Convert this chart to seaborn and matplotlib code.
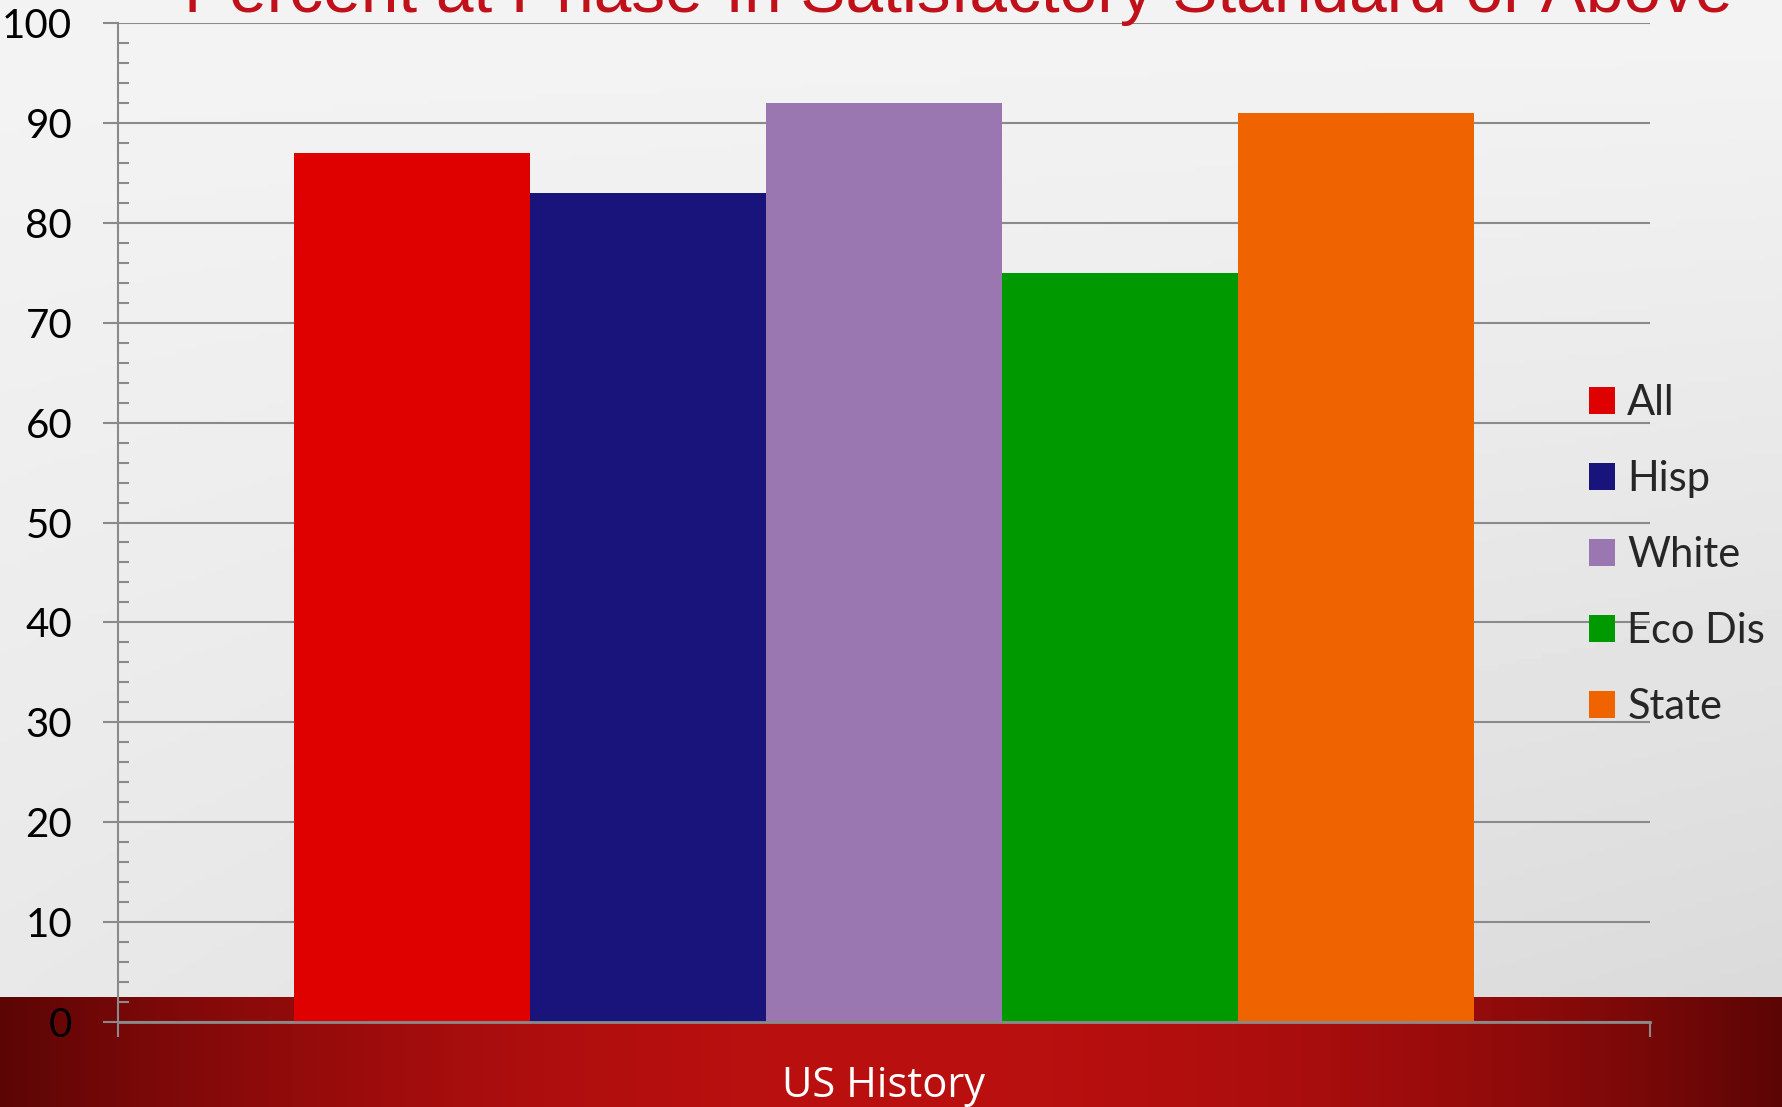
import matplotlib.pyplot as plt
import seaborn as sns
import pandas as pd
import numpy as np

# chart data
title = 'Percent at Phase-In Satisfactory Standard or Above'
subject = 'US History'
groups = ['All', 'Hisp', 'White', 'Eco Dis', 'State']
values = [87, 83, 92, 75, 91]
colors = ['#df0000', '#19137c', '#9b77b2', '#009900', '#f06400']

W, H = 1783, 1107
sns.set_theme(style='white')
plt.rcParams['font.family'] = ['Lato', 'DejaVu Sans']

fig = plt.figure(figsize=(W / 100, H / 100), dpi=100)

# slide background: light grey gradient + dark red band at the bottom
bg = fig.add_axes([0, 0, 1, 1], zorder=-10)
yy, xx = np.mgrid[0:1:200j, 0:1:200j]
shade = 0.955 - 0.11 * yy * (0.45 + 0.55 * xx)
bg.imshow(shade, cmap='gray', vmin=0, vmax=1, extent=(0, 1, 0, 1), aspect='auto')
band_top = 1 - 997 / H
xs = np.linspace(0, 1, 400)
k = 1 - (np.abs(xs - 0.5) / 0.5) ** 2.2
band = np.zeros((1, 400, 3))
band[0, :, 0] = 0.36 + (0.73 - 0.36) * k
band[0, :, 1] = 0.02 + (0.06 - 0.02) * k
band[0, :, 2] = 0.02 + (0.06 - 0.02) * k
bg.imshow(band, extent=(0, 1, 0, band_top), aspect='auto')
bg.set_xlim(0, 1)
bg.set_ylim(0, 1)
bg.axis('off')

left, right = 118 / W, 1650 / W
bottom, top = 1 - 1022 / H, 1 - 23 / H
ax = fig.add_axes([left, bottom, right - left, top - bottom])
ax.set_facecolor('none')

df = pd.DataFrame({'subject': [subject] * len(groups), 'group': groups, 'value': values})
sns.barplot(data=df, x='subject', y='value', hue='group', palette=colors,
            width=0.77, gap=0, saturation=1, linewidth=0, ax=ax, zorder=3)

ax.set_xlim(-0.5, 0.5)
ax.set_ylim(0, 100)
ax.set_xlabel('')
ax.set_ylabel('')

grid_c = '#8a8a8a'
for s in ['top', 'right']:
    ax.spines[s].set_visible(False)
ax.spines['left'].set_color(grid_c)
ax.spines['left'].set_linewidth(1.5)
ax.spines['bottom'].set_color(grid_c)
ax.spines['bottom'].set_linewidth(2)
ax.spines['bottom'].set_zorder(4)

ax.set_yticks(np.arange(0, 101, 10))
ax.set_yticks(np.arange(0, 101, 2), minor=True)
ax.tick_params(axis='y', which='major', direction='out', length=11, width=1.5, left=True,
               color=grid_c, labelsize=29, labelcolor='black', pad=22)
ax.tick_params(axis='y', which='minor', direction='in', length=8, width=1.5,
               color=grid_c, left=True)
ax.yaxis.grid(True, which='major', color=grid_c, linewidth=1.5, zorder=0)
ax.set_axisbelow(True)

ax.set_xticks([-0.5, 0.5], labels=['', ''])
ax.tick_params(axis='x', which='major', direction='out', length=11, width=1.5,
               bottom=True, color=grid_c)
ax.text(0, -0.064, subject, transform=ax.get_xaxis_transform(), ha='center', va='center',
        color='white', fontsize=30, family=['Open Sans', 'DejaVu Sans'])

handles, labels = ax.get_legend_handles_labels()
ax.legend(handles, labels, loc='center left', bbox_to_anchor=(1589 / W, 1 - 555 / H),
          bbox_transform=fig.transFigure, frameon=False, fontsize=30,
          handlelength=0.62, handleheight=0.62, handletextpad=0.3,
          labelspacing=0.91, borderpad=0, borderaxespad=0)

fig.text(958 / W, 1 - 12 / H, title, ha='center', va='baseline', color='#c0101a',
         fontsize=48.7, family=['Liberation Sans', 'DejaVu Sans'])

fig.savefig('out.png', dpi=100)
